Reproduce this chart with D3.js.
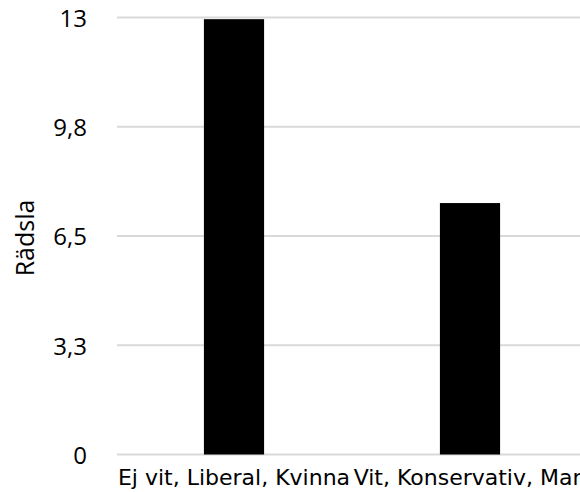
<!DOCTYPE html>
<html>
<head>
<meta charset="utf-8">
<script src="https://cdn.jsdelivr.net/npm/d3@7/dist/d3.min.js"></script>
<style>
  html, body { margin: 0; padding: 0; background: #fff; overflow: hidden; }
  svg { display: block; }
</style>
</head>
<body>
<svg id="chart" width="580" height="492"></svg>
<script>
// Fear score per group
const categories = ["Ej vit, Liberal, Kvinna", "Vit, Konservativ, Man"];
const values = [12.95, 7.48];
const tickValues = [0, 3.25, 6.5, 9.75, 13];
const tickLabels = ["0", "3,3", "6,5", "9,8", "13"];
const yTitle = "Rädsla";

(function () {
  const svg = d3.select("#chart");
  const plotLeft = 117, plotTop = 17.5, plotBottom = 454.5;
  const step = 236;

  const x = d3.scaleBand()
    .domain(categories)
    .range([plotLeft - 1, plotLeft - 1 + step * categories.length])
    .paddingInner(0.745)
    .paddingOuter(0.3725);

  const y = d3.scaleLinear().domain([0, 13]).range([plotBottom, plotTop]);

  // horizontal gridlines
  svg.append("g")
    .selectAll("line")
    .data(tickValues)
    .join("line")
    .attr("x1", plotLeft)
    .attr("x2", 580)
    .attr("y1", d => y(d))
    .attr("y2", d => y(d))
    .attr("stroke", "#d9d9d9")
    .attr("stroke-width", 2);

  // y tick labels
  const yAxis = d3.axisLeft(y)
    .tickValues(tickValues)
    .tickFormat((d, i) => tickLabels[i])
    .tickSize(0)
    .tickPadding(0);
  const gy = svg.append("g").attr("transform", "translate(87,0)").call(yAxis);
  gy.select(".domain").remove();
  gy.selectAll("text")
    .attr("font-family", "'Open Sans', sans-serif")
    .attr("font-size", 24)
    .attr("fill", "#000")
    .attr("dy", "0.37em");

  // bars
  svg.append("g")
    .selectAll("rect")
    .data(values)
    .join("rect")
    .attr("x", (d, i) => x(categories[i]))
    .attr("width", x.bandwidth())
    .attr("y", d => y(d))
    .attr("height", d => y(0) - y(d))
    .attr("fill", "#000");

  // category labels
  const xAxis = d3.axisBottom(x).tickSize(0).tickPadding(0);
  const gx = svg.append("g").attr("transform", "translate(0,485)").call(xAxis);
  gx.select(".domain").remove();
  gx.selectAll("text")
    .attr("font-family", "'DejaVu Sans', sans-serif")
    .attr("font-size", 22)
    .attr("fill", "#000")
    .attr("y", 0)
    .attr("dy", 0);

  // y-axis title
  svg.append("text")
    .attr("transform", "translate(34,238) rotate(-90)")
    .attr("text-anchor", "middle")
    .attr("font-family", "'Open Sans', sans-serif")
    .attr("font-size", 25)
    .attr("fill", "#000")
    .text(yTitle);
})();
</script>
</body>
</html>
